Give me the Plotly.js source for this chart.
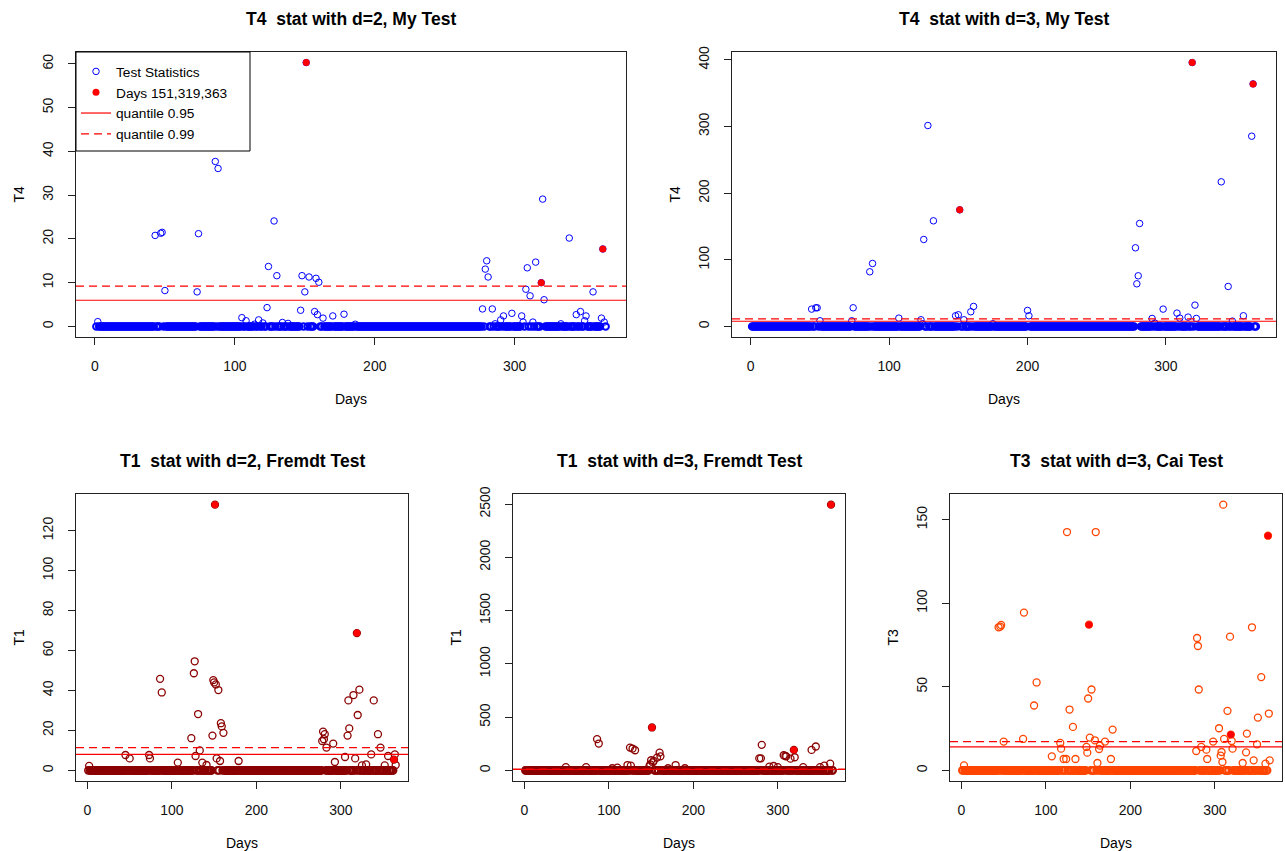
<!DOCTYPE html>
<html><head><meta charset="utf-8">
<script src="https://cdn.plot.ly/plotly-3.0.1.min.js"></script>
<style>html,body{margin:0;padding:0;background:#fff}#chart{width:1285px;height:851px}</style>
</head><body><div id="chart"></div>
<script>
// ---------------- DATA ----------------
const nDays = 365;                       // days 1..365 on the x axis
const highlightDays = [151, 319, 363];   // red filled points
const xTicks = [0, 100, 200, 300];

// Panel titles / axis labels
const panelTitles = ["T4  stat with d=2, My Test", "T4  stat with d=3, My Test",
                     "T1  stat with d=2, Fremdt Test", "T1  stat with d=3, Fremdt Test",
                     "T3  stat with d=3, Cai Test"];
const yLabels = ["T4", "T4", "T1", "T1", "T3"];
const xLabel = "Days";
const yTicks = [[0,10,20,30,40,50,60],[0,100,200,300,400],[0,20,40,60,80,100,120],[0,500,1000,1500,2000,2500],[0,50,100,150]];

// Non-zero statistic values (all other days sit at ~0)
const t4d2Days = [2,43,47,48,50,73,74,86,88,105,108,114,117,120,123,124,128,130,134,138,147,148,150,151,153,157,158,159,160,163,170,178,186,277,279,280,281,284,286,290,292,298,305,306,308,309,311,313,315,319,320,321,333,339,344,347,350,351,356,362,363,364];
const t4d2Vals = [1.1,20.8,21.3,21.5,8.2,7.9,21.2,37.7,36.1,2.0,1.3,0.5,1.5,0.8,4.3,13.7,24.1,11.6,0.9,0.7,3.7,11.6,7.9,60.3,11.3,3.4,11.0,2.7,10.1,1.9,2.4,2.8,0.5,4.0,13.1,15.0,11.3,4.0,0.6,1.5,2.4,3.0,2.4,1.0,8.5,13.4,7.0,1.0,14.7,10.0,29.1,6.1,0.6,20.2,2.7,3.4,1.3,2.4,7.9,1.9,17.7,1.0];

const t4d3Days = [44,47,48,50,73,74,86,88,107,123,124,125,128,132,148,150,151,154,159,161,175,200,201,278,279,280,281,290,292,298,308,310,316,319,321,322,340,345,348,356,362,363];
const t4d3Vals = [26,28,28,8.5,8.5,28,82,94.5,12.5,10,4,130.5,301.5,158.5,16,17.5,175,10,22,30,4,24,16,118,64,76,154.5,12,5,26,20,12.5,14,396,32,12,217,60,8,16,285.5,364];

const t1d2Days = [2,45,50,73,74,86,88,107,123,126,127,128,131,133,136,141,148,149,150,151,152,153,155,157,158,159,161,179,278,279,280,281,283,291,293,305,308,309,310,315,317,319,320,322,325,330,336,339,344,347,352,356,363,364,365];
const t1d2Vals = [2.2,7.7,6.0,7.7,6.0,45.8,39,3.9,16.1,48.6,54.6,7.2,28.2,10,3.9,2.7,17.4,45.2,44,133,43,6,40.2,4.7,23.6,22,18.8,4.7,14.7,19.4,15.6,18.1,11.4,13.4,4.2,6.7,17.4,35,21,37.7,6,68.7,27.7,40.4,2.5,3,8,35,18.1,11.4,2.5,7.2,5.4,8,2.7];

const t1d3Days = [49,73,86,88,104,110,122,125,126,128,131,148,149,150,151,152,153,157,160,161,170,179,190,278,280,281,290,295,300,307,309,310,315,319,320,330,340,345,350,355,362,363];
const t1d3Vals = [30,30,293,252,20,25,50,214,45,205,189,40,57,95,403,75,88,120,167,132,20,50,20,113,113,240,35,41,30,142,135,132,110,192,123,30,192,224,30,45,63,2495];

const t3d3Days = [3,44,46,47,50,73,74,86,89,107,117,118,121,124,125,128,132,135,148,149,150,151,152,154,158,159,161,163,164,170,177,179,278,279,280,281,284,290,291,298,305,307,308,309,310,311,315,318,319,320,321,333,337,338,344,346,350,351,355,360,363,364,365];
const t3d3Vals = [3,85.6,86,87,17.2,18.8,94.4,38.8,52.6,8.4,16.4,13,6.8,6.8,142.6,36.4,26,6.8,14,10.6,43,87.2,19.6,48.4,18,142.6,4.4,12.8,14.8,17.2,6.8,24.4,11.6,79.2,74.4,48.4,14,12.4,6.8,17.2,25.2,8.8,11,5,159,18.8,35.6,80,21.4,17.6,13,4.4,10.8,22,85.6,6,15.6,31.6,55.8,4,140.4,34,6];

// Quantile reference lines (0.95 solid, 0.99 dashed)
const q95 = [5.99, 7.81, 8.0, 8.0, 14.0];
const q99 = [9.21, 11.34, 11.4, 11.4, 17.2];

const legendNames = ["Test Statistics", "Days " + highlightDays.join(","), "quantile 0.95", "quantile 0.99"];

// ---------------- LAYOUT CONSTANTS ----------------
const W = 1285, H = 851;
const boxes = [
  {l:76,  r:626,  t:52,  b:337},
  {l:732, r:1276, t:52,  b:337},
  {l:76,  r:408,  t:494, b:781},
  {l:513, r:845,  t:494, b:781},
  {l:950, r:1282, t:494, b:781}
];
const legendBox = {l:76, r:250, t:52, b:151};
const pointColors = ["#0000FF", "#0000FF", "#8B0000", "#8B0000", "#FF4500"];
const markerSizes = [6.5, 6.5, 7, 7, 7];
const ringWidths = [1, 1, 1.3, 1.3, 1.3];
const bandRingWidths = [2, 2, 1.6, 1.6, 1.6];
const FONT = "Liberation Sans, Arial, Helvetica, sans-serif";

const panelDays = [t4d2Days, t4d3Days, t1d2Days, t1d3Days, t3d3Days];
const panelVals = [t4d2Vals, t4d3Vals, t1d2Vals, t1d3Vals, t3d3Vals];

const days = [];
for (let d = 1; d <= nDays; d++) days.push(d);

const px2x = p => p / W;
const px2y = p => 1 - p / H;

const traces = [];
const layout = {
  width: W, height: H, margin: {l:0, r:0, t:0, b:0},
  paper_bgcolor: "#fff", plot_bgcolor: "#fff",
  font: {family: FONT, size: 14, color: "#000"},
  showlegend: true,
  legend: {
    x: px2x(legendBox.l), y: px2y(legendBox.t + 4), xanchor: "left", yanchor: "top",
    borderwidth: 0, bgcolor: "rgba(0,0,0,0)",
    font: {family: FONT, size: 13.7, color: "#000"},
    tracegroupgap: 0
  },
  shapes: [{
    type: "rect", xref: "paper", yref: "paper", layer: "above",
    x0: px2x(legendBox.l), x1: px2x(legendBox.r), y0: px2y(legendBox.b), y1: px2y(legendBox.t),
    line: {color: "#000", width: 1}, fillcolor: "#fff"
  }],
  annotations: [],
  hovermode: false
};

for (let i = 0; i < 5; i++) {
  const sfx = i === 0 ? "" : String(i + 1);
  const xa = "x" + sfx, ya = "y" + sfx;
  const lookup = new Map();
  panelDays[i].forEach((d, k) => lookup.set(d, panelVals[i][k]));
  const vals = days.map(d => lookup.has(d) ? lookup.get(d) : 0);
  const hlVals = highlightDays.map(d => lookup.get(d));
  const zeroDays = days.filter(d => !lookup.has(d));
  const zeroVals = zeroDays.map(() => 0);

  const xmin = 1, xmax = nDays;
  const xr = [xmin - 0.04 * (xmax - xmin), xmax + 0.04 * (xmax - xmin)];
  const ymin = Math.min(...vals), ymax = Math.max(...vals);
  const yr = [ymin - 0.04 * (ymax - ymin), ymax + 0.04 * (ymax - ymin)];
  const show = i === 0;

  // dense run of ~0 values (drawn as open circles, they merge into a band)
  traces.push({
    type: "scatter", mode: "markers", x: zeroDays, y: zeroVals, xaxis: xa, yaxis: ya,
    showlegend: false, legendgroup: "stat",
    marker: {symbol: "circle-open", size: markerSizes[i], color: pointColors[i], line: {width: bandRingWidths[i], color: pointColors[i]}}
  });
  traces.push({
    type: "scatter", mode: "markers", x: panelDays[i], y: panelVals[i], xaxis: xa, yaxis: ya,
    name: legendNames[0], showlegend: show, legendgroup: "stat",
    marker: {symbol: "circle-open", size: markerSizes[i], color: pointColors[i], line: {width: ringWidths[i], color: pointColors[i]}}
  });
  traces.push({
    type: "scatter", mode: "markers", x: highlightDays, y: hlVals, xaxis: xa, yaxis: ya,
    name: legendNames[1], showlegend: show,
    marker: {symbol: "circle", size: 7, color: "#FF0000"}
  });
  traces.push({
    type: "scatter", mode: "lines", x: xr, y: [q95[i], q95[i]], xaxis: xa, yaxis: ya,
    name: legendNames[2], showlegend: show,
    line: {color: "#FF0000", width: 1.2}
  });
  traces.push({
    type: "scatter", mode: "lines", x: xr, y: [q99[i], q99[i]], xaxis: xa, yaxis: ya,
    name: legendNames[3], showlegend: show,
    line: {color: "#FF0000", width: 1.2, dash: "8px,5px"}
  });

  const b = boxes[i];
  layout["xaxis" + sfx] = {
    domain: [px2x(b.l), px2x(b.r)], anchor: ya, range: xr,
    tickmode: "array", tickvals: xTicks, ticktext: xTicks.map(String),
    showline: true, mirror: true, linecolor: "#222", linewidth: 1.2,
    ticks: "outside", ticklen: 7, tickwidth: 1, tickcolor: "#222",
    showgrid: false, zeroline: false, fixedrange: true,
    tickfont: {family: FONT, size: 14, color: "#111"}, ticklabelstandoff: 9
  };
  layout["yaxis" + sfx] = {
    domain: [px2y(b.b), px2y(b.t)], anchor: xa, range: yr,
    tickmode: "array", tickvals: yTicks[i], ticktext: yTicks[i].map(String),
    tickangle: -90,
    showline: true, mirror: true, linecolor: "#222", linewidth: 1.2,
    ticks: "outside", ticklen: 7, tickwidth: 1, tickcolor: "#222",
    showgrid: false, zeroline: false, fixedrange: true,
    tickfont: {family: FONT, size: 14, color: "#111"}, ticklabelstandoff: 9
  };

  const cx = (b.l + b.r) / 2, cy = (b.t + b.b) / 2;
  layout.annotations.push({
    xref: "paper", yref: "paper", x: px2x(cx), y: px2y(b.t - 33), xanchor: "center", yanchor: "middle",
    text: "<b>" + panelTitles[i].replace(/  /g, "\u00a0 ") + "</b>", showarrow: false,
    font: {family: FONT, size: 17.5, color: "#000"}
  });
  layout.annotations.push({
    xref: "paper", yref: "paper", x: px2x(cx), y: px2y(b.b + 62), xanchor: "center", yanchor: "middle",
    text: xLabel, showarrow: false, font: {family: FONT, size: 14, color: "#000"}
  });
  layout.annotations.push({
    xref: "paper", yref: "paper", x: px2x(b.l - 58), y: px2y(cy), xanchor: "center", yanchor: "middle",
    text: yLabels[i], textangle: -90, showarrow: false, font: {family: FONT, size: 14, color: "#000"}
  });
}

Plotly.newPlot("chart", traces, layout, {displayModeBar: false, staticPlot: true});
</script>
</body></html>
